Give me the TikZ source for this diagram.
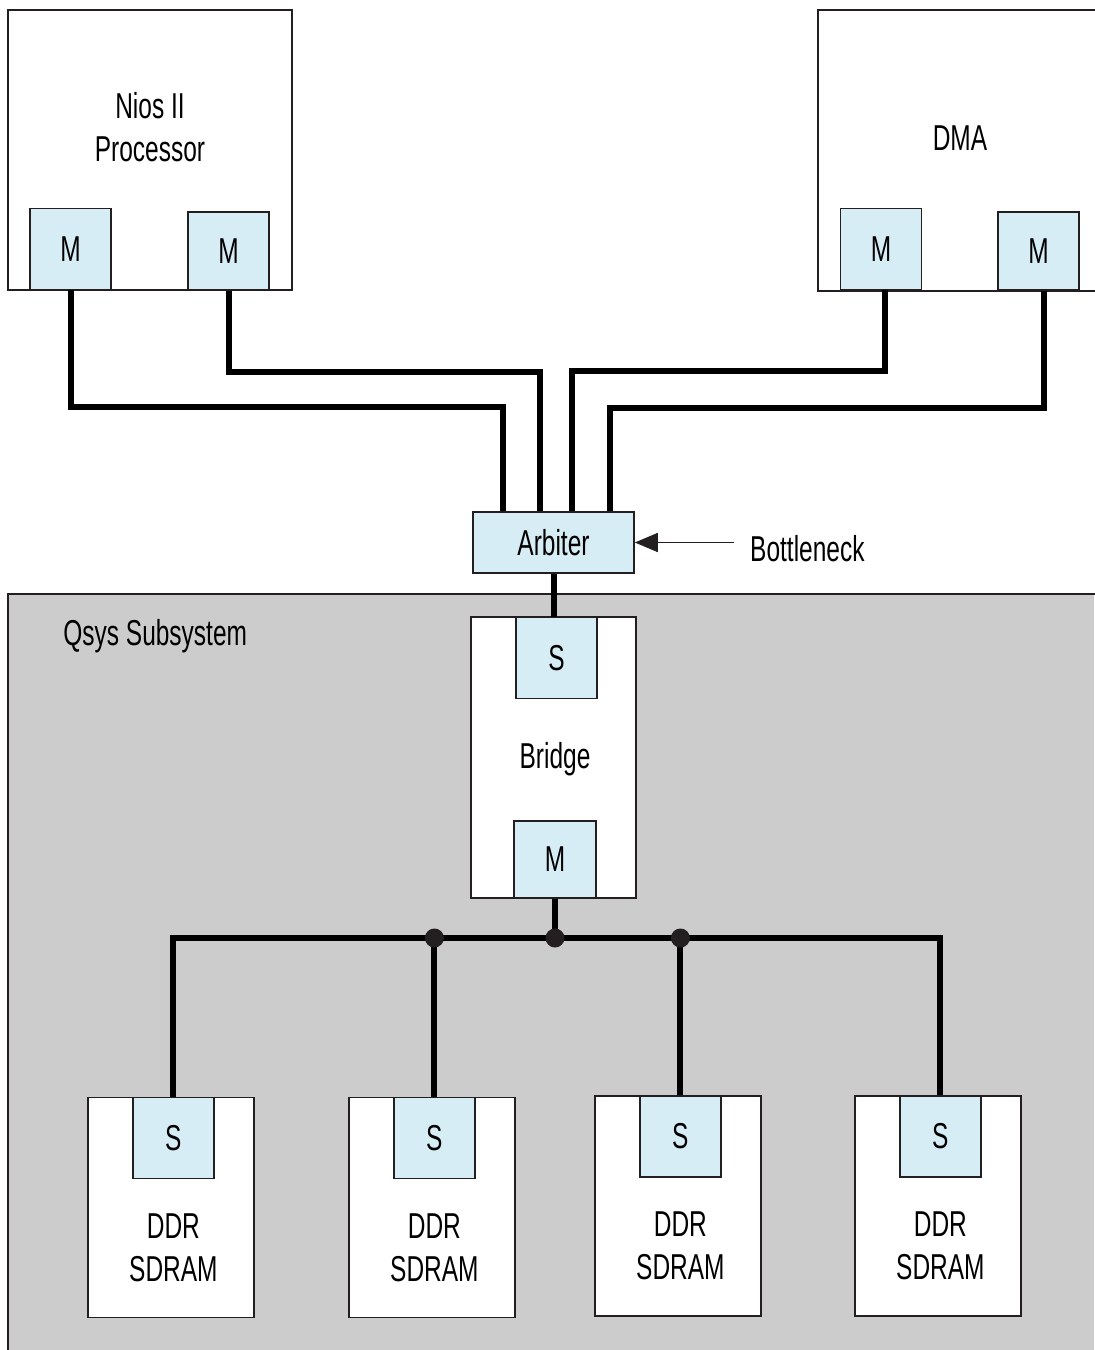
\documentclass[tikz,border=0pt]{standalone}
\usepackage{fontspec}
\setmainfont[FakeStretch=0.68]{Liberation Sans}
\usetikzlibrary{arrows.meta,positioning}
\definecolor{portblue}{HTML}{D6EDF5}
\definecolor{subgray}{HTML}{CCCCCC}
\definecolor{edgegray}{HTML}{231F20}

\begin{document}
\begin{tikzpicture}[
  x=0.5pt, y=-0.5pt,
  font=\fontsize{18}{21.5}\selectfont,
  block/.style={draw=edgegray, fill=white, line width=0.8pt, inner sep=0pt},
  openblock/.style={fill=white, inner sep=0pt, anchor=north west},
  edge/.style={draw=edgegray, line width=0.8pt},
  port/.style={block, fill=portblue, minimum width=40.5pt, minimum height=40.5pt},
  label/.style={align=center, inner sep=0pt},
  wire/.style={line width=3pt, black},
  tap/.style={circle, fill=edgegray, inner sep=0pt, minimum size=9.5pt},
  pointer/.style={line width=0.8pt, edgegray, -{Triangle[length=11.5pt, width=9.5pt]}}
]
\useasboundingbox (0,0) rectangle (1094,1350);
% subsystem background, running off the right and bottom edges
\node[openblock, fill=subgray, minimum width=543pt, minimum height=378pt] (qsys) at (8,594) {};
\draw[edge] (qsys.north east) -- (qsys.north west) -- (qsys.south west);
\node[label, anchor=base west] (qsystxt) at (63,645) {Qsys Subsystem};

% masters
\node[block, minimum width=142pt, minimum height=140pt] (nios) at (150,150) {};
\node[label] (niostxt) at (150,127) {Nios II\\Processor};
\node[port] (m1) at (70.5,249) {M};
\node[port, minimum height=39pt] (m2) at (228.5,251) {M};
\node[openblock, minimum width=138pt, minimum height=140pt] (dma) at (818,10) {};
\draw[edge] (dma.north east) -- (dma.north west) -- (dma.south west) -- (dma.south east);
\node[label] (dmatxt) at (960,138) {DMA};
\node[port] (m3) at (881,249) {M};
\node[port, minimum height=39pt] (m4) at (1038.5,251) {M};

% arbiter and bridge
\node[port, minimum width=80.5pt, minimum height=30.5pt] (arb) at (553.5,542.5) {Arbiter};
\node[label, right=49.5pt of arb, yshift=-3pt, inner xsep=8pt] (bneck) {Bottleneck};
\node[block, minimum width=82.5pt, minimum height=140.5pt] (bridge) at (553.5,757.5) {};
\node[label] (bridgetxt) at (555,759) {Bridge};
\node[port] (bs) at (556.5,658) {S};
\node[port, minimum width=41pt, minimum height=38.5pt] (bm) at (555,859.5) {M};

% memories
\foreach \i/\x/\y in {1/171/1207.5, 2/432/1207.5, 3/678/1206, 4/938/1206} {
  \node[block, minimum width=83pt, minimum height=110pt] (ddr\i) at (\x,\y) {};
  \node[port, anchor=north] (s\i) at ([xshift=1.2pt]ddr\i.north) {S};
  \node[label, below=17pt of s\i.south] (ddrtxt\i) {DDR\\SDRAM};
}

% connections to arbiter
\draw[wire] (m1.south) -- ++(0,117) -| ([xshift=-25.25pt]arb.north);
\draw[wire] (m2.south) -- ++(0,81) -| ([xshift=-6.75pt]arb.north);
\draw[wire] ([xshift=2pt]m3.south) -- ++(0,81) -| ([xshift=9.25pt]arb.north);
\draw[wire] ([xshift=2.5pt]m4.south) -- ++(0,117) -| ([xshift=28.25pt]arb.north);
\draw[pointer] (bneck.west |- arb.east) -- (arb.east);
\draw[wire] (arb.south) -- (arb.south |- bs.north);

% memory bus
\coordinate (bus) at (555,938);
\draw[wire] (bm.south) -- (bus);
\draw[wire] (s1.north) |- (bus) -| (s4.north);
\draw[wire] (s2.north) -- (s2.north |- bus);
\draw[wire] (s3.north) -- (s3.north |- bus);
\node[tap] (tap2) at (s2.north |- bus) {};
\node[tap] (tapm) at (bus) {};
\node[tap] (tap3) at (s3.north |- bus) {};
\end{tikzpicture}
\end{document}
